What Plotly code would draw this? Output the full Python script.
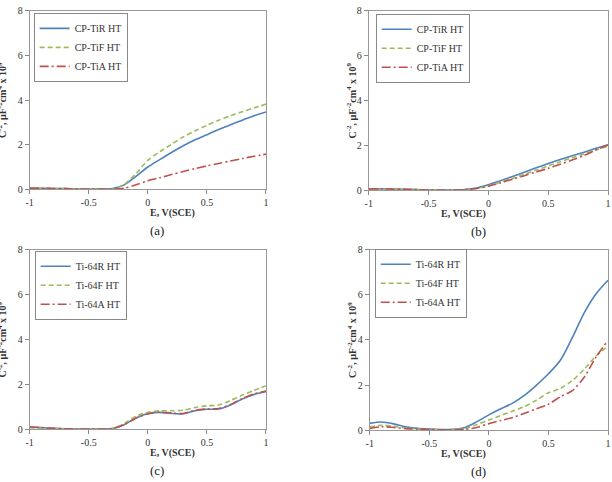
import plotly.graph_objects as go

W, H = 612, 482

E = [-1, -0.9, -0.8, -0.7, -0.6, -0.5, -0.4, -0.3, -0.2, -0.1, 0,
     0.1, 0.2, 0.3, 0.4, 0.5, 0.6, 0.7, 0.8, 0.9, 1]

# (a)
a_TiR = [0.06, 0.05, 0.04, 0.03, 0.02, 0.01, 0.01, 0.03, 0.2, 0.58, 1.0,
         1.33, 1.65, 1.95, 2.22, 2.45, 2.68, 2.9, 3.1, 3.3, 3.47]
a_TiF = [0.05, 0.05, 0.04, 0.03, 0.02, 0.01, 0.01, 0.03, 0.22, 0.7, 1.3,
         1.68, 2.02, 2.35, 2.62, 2.87, 3.1, 3.3, 3.48, 3.65, 3.82]
a_TiA = [0.05, 0.05, 0.04, 0.03, 0.02, 0.01, 0.01, 0.01, 0.05, 0.2, 0.38,
         0.52, 0.66, 0.8, 0.93, 1.05, 1.16, 1.27, 1.38, 1.48, 1.58]
# (b)
b_TiR = [0.07, 0.07, 0.06, 0.05, 0.03, 0.01, 0.01, 0.01, 0.03, 0.1, 0.25,
         0.43, 0.61, 0.8, 1.0, 1.19, 1.37, 1.54, 1.7, 1.87, 2.03]
b_TiF = [0.05, 0.05, 0.05, 0.04, 0.03, 0.01, 0.01, 0.01, 0.03, 0.08, 0.2,
         0.36, 0.53, 0.71, 0.9, 1.09, 1.27, 1.45, 1.62, 1.8, 1.97]
b_TiA = [0.06, 0.06, 0.05, 0.04, 0.03, 0.01, 0.01, 0.01, 0.03, 0.08, 0.18,
         0.33, 0.49, 0.65, 0.82, 0.98, 1.16, 1.35, 1.55, 1.8, 2.02]
# (c)
c_64R = [0.1, 0.07, 0.04, 0.02, 0.01, 0.01, 0.01, 0.03, 0.2, 0.5, 0.7,
         0.75, 0.7, 0.69, 0.82, 0.89, 0.9, 1.08, 1.35, 1.55, 1.68]
c_64F = [0.07, 0.05, 0.03, 0.02, 0.01, 0.01, 0.01, 0.03, 0.25, 0.58, 0.75,
         0.82, 0.82, 0.85, 0.97, 1.04, 1.08, 1.28, 1.52, 1.73, 1.93]
c_64A = [0.1, 0.07, 0.04, 0.02, 0.01, 0.01, 0.01, 0.03, 0.2, 0.5, 0.68,
         0.76, 0.72, 0.7, 0.84, 0.9, 0.92, 1.1, 1.37, 1.57, 1.7]
# (d)
d_64R = [0.3, 0.36, 0.28, 0.15, 0.08, 0.05, 0.03, 0.04, 0.12, 0.38, 0.68,
         0.95, 1.2, 1.55, 2.0, 2.5, 3.1, 4.1, 5.2, 6.05, 6.65]
d_64F = [0.15, 0.22, 0.17, 0.1, 0.05, 0.03, 0.02, 0.03, 0.07, 0.25, 0.45,
         0.65, 0.85, 1.05, 1.33, 1.66, 1.85, 2.2, 2.7, 3.3, 3.72]
d_64A = [0.08, 0.15, 0.12, 0.07, 0.04, 0.03, 0.02, 0.02, 0.03, 0.12, 0.29,
         0.43, 0.56, 0.75, 0.95, 1.15, 1.48, 1.75, 2.35, 3.25, 3.98]

x_ticks = [-1, -0.5, 0, 0.5, 1]
x_ticktext = ["-1", "-0.5", "0", "0.5", "1"]
y_ticks = [0, 2, 4, 6, 8]

panels = [
    ("(a)", ["CP-TiR HT", "CP-TiF HT", "CP-TiA HT"], [a_TiR, a_TiF, a_TiA]),
    ("(b)", ["CP-TiR HT", "CP-TiF HT", "CP-TiA HT"], [b_TiR, b_TiF, b_TiA]),
    ("(c)", ["Ti-64R HT", "Ti-64F HT", "Ti-64A HT"], [c_64R, c_64F, c_64A]),
    ("(d)", ["Ti-64R HT", "Ti-64F HT", "Ti-64A HT"], [d_64R, d_64F, d_64A]),
]

# pixel boxes (left, right, top, bottom)
boxes = [(26, 265, 5, 188), (369, 611, 5, 189), (26, 265, 250, 434), (370, 611, 250, 435)]
legend_pos = [(30, 7), (376, 8), (31, 251), (375, 249)]
ytitle_x = [-2, 351, -2, 352]

colors = ["#4F81BD", "#9BBB59", "#C0504D"]
dashes = ["solid", "5px,3px", "9px,3px,2px,3px"]
SERIF = "Liberation Serif"

fig = go.Figure()
layout = dict(width=W, height=H, margin=dict(l=0, r=0, t=0, b=0),
              paper_bgcolor="white", plot_bgcolor="white", annotations=[],
              font=dict(family=SERIF, size=10, color="#333"))

def px2x(p):
    return p / W

def px2y(p):
    return 1 - p / H

for i, (lab, names, series) in enumerate(panels):
    n = i + 1
    xa = "x" if n == 1 else f"x{n}"
    ya = "y" if n == 1 else f"y{n}"
    lg = "legend" if n == 1 else f"legend{n}"
    for j in range(3):
        fig.add_trace(go.Scatter(
            x=E, y=series[j], mode="lines", name=names[j],
            line=dict(color=colors[j], width=1.6, dash=dashes[j], shape="spline", smoothing=0.8),
            xaxis=xa, yaxis=ya, legend=lg))
    l, r, t, b = boxes[i]
    axk = "xaxis" if n == 1 else f"xaxis{n}"
    ayk = "yaxis" if n == 1 else f"yaxis{n}"
    layout[axk] = dict(domain=[px2x(l), px2x(r)], range=[-1, 1], anchor=ya,
                       tickvals=x_ticks, ticktext=x_ticktext, ticks="outside", ticklen=4,
                       tickcolor="#888", showline=True, linecolor="#999", mirror=True,
                       showgrid=False, zeroline=False,
                       tickfont=dict(family=SERIF, size=10, color="#333"))
    layout[ayk] = dict(domain=[px2y(b), px2y(t)], range=[0, 8], anchor=xa,
                       tickvals=y_ticks, ticks="outside", ticklen=4,
                       tickcolor="#888", showline=True, linecolor="#999", mirror=True,
                       showgrid=False, zeroline=False,
                       tickfont=dict(family=SERIF, size=10, color="#333"))
    lx, ly = legend_pos[i]
    layout[lg] = dict(x=px2x(lx), y=px2y(ly), xanchor="left", yanchor="top",
                      bgcolor="white", bordercolor="#888", borderwidth=1,
                      font=dict(family=SERIF, size=10, color="#333"),
                      tracegroupgap=0, itemwidth=30)
    tx = (l + r) / 2 if n in (1, 3) else 490
    # x title
    layout["annotations"].append(dict(
        text="<b>E, V(SCE)</b>", x=px2x(tx), y=px2y(b + 24),
        xref="paper", yref="paper", showarrow=False,
        font=dict(family=SERIF, size=10, color="#333"), yanchor="middle"))
    # panel label
    layout["annotations"].append(dict(
        text=lab, x=px2x(tx), y=px2y(b + 42),
        xref="paper", yref="paper", showarrow=False,
        font=dict(family=SERIF, size=13, color="#222"), yanchor="middle"))
    # y title
    layout["annotations"].append(dict(
        text="<b>C<sup>-2</sup>, µF<sup>-2</sup>cm<sup>4</sup> x 10<sup>9</sup></b>",
        x=px2x(ytitle_x[i]), y=px2y((t + b) / 2), xref="paper", yref="paper",
        showarrow=False, textangle=-90, xanchor="center", yanchor="middle",
        font=dict(family=SERIF, size=10, color="#333")))

fig.update_layout(**layout)
fig.write_html("out.html")
